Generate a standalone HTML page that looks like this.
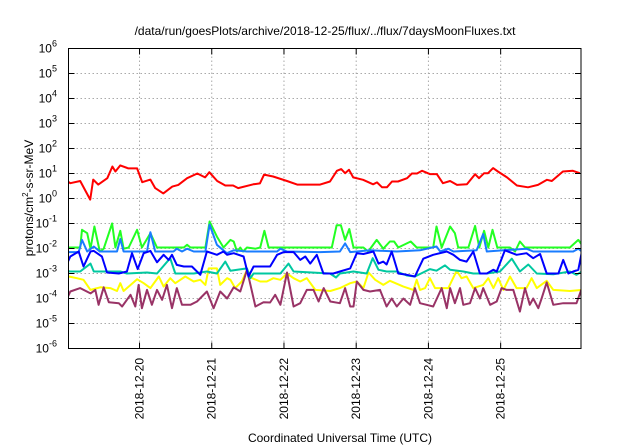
<!DOCTYPE html>
<html><head><meta charset="utf-8"><style>
html,body{margin:0;padding:0;background:#fff;}
svg{display:block;font-family:"Liberation Sans",sans-serif;}
</style></head><body>
<svg id="chart" width="640" height="448" viewBox="0 0 640 448">
<text x="325" y="35" font-size="12" text-anchor="middle">/data/run/goesPlots/archive/2018-12-25/flux/../flux/7daysMoonFluxes.txt</text>
<text x="340" y="442" font-size="12" text-anchor="middle">Coordinated Universal Time (UTC)</text>
<text transform="translate(33,198) rotate(-90)" font-size="12" text-anchor="middle">protons/cm<tspan font-size="8" dy="-5">2</tspan><tspan dy="5">-s-sr-MeV</tspan></text>
<defs><clipPath id="pc"><rect x="68.5" y="48.5" width="512.5" height="300"/></clipPath></defs>
<g id="grid"></g>
<g id="series" clip-path="url(#pc)"></g>
<rect x="68.5" y="48.5" width="512.5" height="300" fill="none" stroke="#000" stroke-width="1"/>
<g id="ticks"></g>
</svg>
<script>
const yTickExps = [-6,-5,-4,-3,-2,-1,0,1,2,3,4,5,6];
const dateLabels = ["2018-12-20","2018-12-21","2018-12-22","2018-12-23","2018-12-24","2018-12-25"];
const dateHours = [24,48,72,96,120,144];

const redT = [-2.3,1,4.3,7.6,8.6,10.3,13.3,15,16,17.6,20.3,23.2,24.9,27.6,29.2,31.9,34.9,36.9,39.8,43.2,45.8,47.2,49.8,52.5,55.1,56.8,61.8,64,65.4,68.4,73,76.4,84,87.3,89.6,91,92.3,93.6,95,98.3,101.6,102.9,104.6,106.2,107.9,109.9,112.9,114.5,116.2,117.9,120.5,122.8,124.8,127.2,129.5,132.8,135.5,136.8,138.5,139.8,141.5,143.1,146.1,149.4,153.1,156.4,159.4,161,164.7,168,170.3];
const redV = [7.6,4.1,5,0.9,5.7,3.6,6.5,19,12,21,16,16,4.5,5.7,2.6,1.6,3,3.5,6.5,10,7,11.3,5,3.3,3.3,2.6,3.7,4,9,7.6,5,3.6,3.6,4.8,12.8,15,10.3,14,7,5.6,3.7,4.4,2.8,2.8,4.8,4.8,6.5,10,10,12.8,9.5,9.5,4.1,5,3.5,3.7,9.4,6.5,10.3,10.3,16.4,12,7,3.3,2.8,3.5,5.6,5,12,12.8,10.3];

const greenT = [-2.3,4.3,4.9,6.6,7.7,9,10.8,12.1,14.9,16,17.6,18.7,20.4,23.2,24.8,27.6,29.8,38.7,39.8,40.9,45.9,47.3,49.7,51.9,54.2,55.3,56.4,57.5,58.4,59.7,62.5,64.1,65.5,66.9,84,87.9,89.5,90.9,92.3,93.7,95.1,98.4,100,102.8,105,107.2,108.6,110,114.1,116.1,121.6,122.7,124.4,127.2,128.8,129.9,133.3,135.5,136.9,138.5,139.9,141.3,142.9,147.1,148.8,150.4,152.1,167,169.8,171];
const greenV = [0.011,0.011,0.056,0.041,0.0098,0.076,0.0076,0.0098,0.10,0.011,0.051,0.0098,0.011,0.056,0.011,0.041,0.011,0.011,0.014,0.011,0.011,0.12,0.030,0.011,0.022,0.019,0.0076,0.011,0.0076,0.011,0.0098,0.011,0.051,0.011,0.011,0.011,0.085,0.085,0.022,0.06,0.011,0.011,0.0076,0.022,0.0098,0.019,0.019,0.011,0.019,0.011,0.011,0.076,0.011,0.076,0.041,0.011,0.011,0.08,0.011,0.051,0.011,0.056,0.011,0.011,0.0076,0.019,0.011,0.011,0.022,0.014];

const lblueT = [-2.3,3.8,4.9,6.6,8.8,10.8,16.5,17.6,18.7,26.5,27.6,29.2,35.3,36.4,38.1,39.8,42,45.9,47.3,49.7,53,55.3,59.7,69.7,70.8,73,84,90.6,92.3,94,100.6,109.5,117.2,122.7,123.9,126.6,128.3,136,138.2,139.4,152.6,154.8,168.1,169.8,171];
const lblueV = [0.0072,0.0072,0.022,0.0076,0.012,0.0076,0.0076,0.024,0.0076,0.0076,0.045,0.0076,0.0076,0.0098,0.0076,0.0098,0.0076,0.0076,0.09,0.014,0.0065,0.0085,0.0076,0.0076,0.0098,0.0076,0.0072,0.0076,0.016,0.0072,0.0085,0.0076,0.0085,0.012,0.0076,0.0098,0.0076,0.0085,0.038,0.0076,0.0098,0.0076,0.0076,0.0098,0.0076];

const blueT = [-2.3,-1,1,3.8,5.4,7.7,8.8,11.5,13.2,17.1,19.8,21.5,23.4,25.4,27.6,29.8,32,33.7,34.8,36.4,38.7,41.4,44.2,46.4,49.7,51.9,53.1,55.3,58.6,60.2,61.9,67.4,69.7,71.9,75.2,77.4,79.1,80.7,82.9,85.1,88.4,90.6,94,96.2,98.4,101.7,103.4,105,106.1,107.8,110,112.8,115.5,118.3,121.6,126.1,128.3,130.5,132.7,134.9,137.1,139.4,141.6,142.7,145.4,149.3,152.6,154.8,157.1,159.3,161.5,163.2,164.8,166.5,168.1,169.8,171];
const blueV = [3.0e-3,1.4e-3,4.8e-3,7.6e-3,1.9e-3,7.6e-3,8.0e-3,4.8e-3,1.1e-3,1.0e-3,1.2e-3,6.5e-3,1.5e-3,6.5e-3,8.0e-3,2.8e-3,5.6e-3,3.5e-3,5.6e-3,2.2e-3,1.9e-3,1.9e-3,8.9e-4,7.6e-3,5.6e-3,7.6e-3,5.6e-3,6.5e-3,4.8e-3,7.6e-4,1.9e-3,1.9e-3,5.6e-3,7.2e-3,7.2e-3,3.5e-3,4.8e-3,2.5e-3,5.6e-3,1.0e-3,1.0e-3,1.2e-3,1.6e-3,6.5e-3,6.0e-3,7.6e-3,2.5e-3,3.0e-3,2.3e-3,7.6e-3,1.0e-3,8.9e-4,7.6e-4,3.9e-3,5.6e-3,7.6e-3,5.6e-3,3.5e-3,3.0e-3,7.6e-3,1.0e-3,1.0e-3,1.4e-3,1.2e-3,8.5e-3,5.6e-3,6.5e-3,4.1e-3,6.0e-3,1.0e-3,1.0e-3,1.0e-3,3.5e-3,1.0e-3,1.2e-3,1.4e-3,7.6e-3];

const tealT = [-2.3,1,4.3,7.7,8.8,17.6,19.8,26.5,29.8,34.2,35.9,42,46.4,49.7,52.5,54.2,59.7,60.8,61.9,70.8,73.5,75.2,87.3,89.3,90.6,95.1,99.5,101.5,103.4,106.1,109.5,112.8,115.5,120.5,122.7,125.5,127.2,131.6,134.9,139.4,143.8,147.7,150.4,153.2,156,161.5,167,169.2,171];
const tealV = [1.4e-3,1.2e-3,1.2e-3,2.5e-3,1.2e-3,1.2e-3,1.0e-3,1.1e-3,1.0e-3,4.1e-3,1.0e-3,1.0e-3,1.2e-3,1.0e-3,3.0e-3,1.3e-3,1.6e-3,6.5e-4,1.0e-3,1.0e-3,2.5e-3,1.2e-3,1.0e-3,6.9e-4,1.0e-3,1.2e-3,1.0e-3,4.1e-3,1.4e-3,1.2e-3,1.2e-3,8.3e-4,7.6e-4,1.5e-3,1.3e-3,2.1e-3,1.4e-3,1.2e-3,1.0e-3,1.0e-3,1.2e-3,3.9e-3,1.2e-3,2.3e-3,1.0e-3,9.3e-4,1.2e-3,8.9e-4,1.2e-3];

const yellowT = [-2.3,0.5,3.2,5.4,7.7,11,14.3,16.5,17.6,18.7,23.2,25.4,27.6,30.4,32,34.2,35.9,39.2,42,44.2,45.9,47,49.7,50.8,53.1,54.2,55.8,58,59.7,61.4,64.1,66.3,68.5,70.8,73,75.2,77.4,79.6,82.4,87.4,90.6,94,96.2,98.4,100.1,102.3,105,107.2,111.7,115,116.1,117.2,118.9,120.5,122.2,126.6,129.4,131,132.7,134.9,138.2,139.9,141.6,143.2,144.9,147.1,149.3,152.6,154.3,156,159.3,161.5,167,171];
const yellowV = [2.6e-4,7.6e-4,6.5e-4,5.6e-4,2.2e-4,2.8e-4,2.6e-4,2.0e-4,4.1e-4,2.0e-4,5.9e-4,4.1e-4,2.6e-4,7.6e-4,3.0e-4,6.5e-4,4.1e-4,7.6e-4,4.8e-4,5.6e-4,3.5e-4,1.6e-3,1.6e-3,3.5e-4,6.5e-4,5.6e-4,2.6e-4,4.8e-4,1.4e-3,6.5e-4,4.8e-4,4.8e-4,6.5e-4,5.6e-4,1.0e-3,6.5e-4,4.8e-4,6.5e-4,2.2e-4,2.0e-4,2.6e-4,4.1e-4,4.8e-4,2.6e-4,1.1e-3,5.6e-4,3.5e-4,5.1e-4,3.0e-4,2.2e-4,5.6e-4,2.2e-4,2.6e-4,6.5e-4,2.6e-4,2.6e-4,1.3e-3,6.5e-4,7.6e-4,2.6e-4,3.5e-4,6.5e-4,2.6e-4,6.5e-4,2.2e-4,7.6e-4,2.6e-4,2.6e-4,6.5e-4,2.6e-4,5.1e-4,2.2e-4,2.0e-4,2.2e-4];

const purpleT = [-2.3,-1,1,4.3,7.7,9.3,10.4,12.1,13.8,17.1,18.2,21,22.6,23.7,24.8,26.5,28.1,29.8,31.5,33.1,34.8,36.4,38.1,40.9,43.1,46.4,48.6,50.8,53.1,55.3,57.5,59.7,62.5,65.2,67.4,69.1,70.8,73,75.2,77.4,79.6,81.8,83.5,85.2,87.4,90.6,92.3,94,95.1,96.2,98.4,100.6,103.9,106.1,107.8,109.5,111.7,113.9,115.5,117.2,119.4,121.6,124.4,126.1,127.2,128.8,130.5,131.6,133.8,135.5,137.1,138.2,140.5,142.7,144.3,146,148.2,150.4,152.1,153.7,154.8,156.5,157.6,159.3,161.5,164.8,169.2,171];
const purpleV = [1.4e-4,5.6e-5,1.9e-4,2.6e-4,1.6e-4,2.2e-4,5.6e-5,2.8e-4,7.1e-5,6.5e-5,4.8e-5,1.4e-4,4.8e-5,3.5e-4,4.1e-5,2.2e-4,5.6e-5,2.2e-4,8.9e-5,3.5e-4,4.1e-5,2.6e-4,5.6e-5,5.6e-5,7.6e-5,1.9e-4,4.1e-5,1.9e-4,1.0e-4,2.8e-4,1.9e-4,1.4e-3,4.8e-5,7.1e-5,6.9e-5,1.4e-4,5.6e-5,1.1e-3,4.8e-5,6.5e-5,2.2e-4,2.2e-4,7.6e-5,2.6e-4,7.6e-5,6.5e-5,2.6e-4,4.8e-5,4.8e-5,4.8e-4,2.2e-4,1.9e-4,2.2e-4,4.8e-5,1.0e-4,4.8e-5,1.0e-4,5.6e-5,2.6e-4,6.5e-5,5.6e-5,4.8e-5,2.6e-4,4.1e-5,2.6e-4,6.5e-5,2.6e-4,5.6e-5,6.5e-5,2.6e-4,1.0e-4,2.6e-4,5.6e-5,7.6e-5,2.6e-4,2.2e-4,2.2e-4,3.0e-5,2.6e-4,5.6e-5,1.0e-4,4.1e-5,1.0e-4,4.4e-4,5.6e-5,6.5e-5,6.5e-5,2.6e-4];

const NS = "http://www.w3.org/2000/svg";
const X0 = 68.5, X1 = 581, Y0 = 348.5, Y1 = 48.5;
const T0 = 0.4, T1 = 170.7, E0 = -6, E1 = 6;
function xScale(t){ return X0 + (t - T0) / (T1 - T0) * (X1 - X0); }
function yScale(v){ return Y0 - (Math.log10(v) - E0) / (E1 - E0) * (Y0 - Y1); }

const grid = document.getElementById('grid');
const ticks = document.getElementById('ticks');
const seriesG = document.getElementById('series');

yTickExps.forEach(e => {
  const y = yScale(Math.pow(10, e));
  if (e > E0 && e < E1) {
    const g = document.createElementNS(NS, 'line');
    g.setAttribute('x1', X0); g.setAttribute('x2', X1); g.setAttribute('y1', y); g.setAttribute('y2', y);
    g.setAttribute('stroke', '#aaa'); g.setAttribute('stroke-dasharray', '1.5,2.5'); g.setAttribute('stroke-width', '1');
    
    
    grid.appendChild(g);
  }
  [[X0, X0 + 6], [X1 - 6, X1]].forEach(p => {
    const tk = document.createElementNS(NS, 'line');
    tk.setAttribute('x1', p[0]); tk.setAttribute('x2', p[1]); tk.setAttribute('y1', y); tk.setAttribute('y2', y);
    tk.setAttribute('stroke', '#000');
    
    
    ticks.appendChild(tk);
  });
  const tx = document.createElementNS(NS, 'text');
  tx.setAttribute('x', 57); tx.setAttribute('y', y + 4);
  tx.setAttribute('font-size', '12'); tx.setAttribute('text-anchor', 'end');
  tx.innerHTML = '10<tspan font-size="9" dy="-6">' + e + '</tspan>';
  
  
  ticks.appendChild(tx);
});

dateHours.forEach((h, i) => {
  const x = xScale(h);
  const g = document.createElementNS(NS, 'line');
  g.setAttribute('x1', x); g.setAttribute('x2', x); g.setAttribute('y1', Y1); g.setAttribute('y2', Y0);
  g.setAttribute('stroke', '#aaa'); g.setAttribute('stroke-dasharray', '1.5,2.5');
  
  
  grid.appendChild(g);
  [[Y0, Y0 - 6], [Y1, Y1 + 6]].forEach(p => {
    const tk = document.createElementNS(NS, 'line');
    tk.setAttribute('x1', x); tk.setAttribute('x2', x); tk.setAttribute('y1', p[0]); tk.setAttribute('y2', p[1]);
    tk.setAttribute('stroke', '#000');
    
    
    ticks.appendChild(tk);
  });
  const tx = document.createElementNS(NS, 'text');
  tx.setAttribute('transform', 'translate(' + (x + 4) + ',358) rotate(-90)');
  tx.setAttribute('font-size', '12'); tx.setAttribute('text-anchor', 'end');
  tx.textContent = dateLabels[i];
  
  
  ticks.appendChild(tx);
});

const seriesList = [
  ['red-series', redT, redV, '#ff0000'],
  ['yellow-series', yellowT, yellowV, '#ffff00'],
  ['purple-series', purpleT, purpleV, '#993366'],
  ['teal-series', tealT, tealV, '#00c8a0'],
  ['light-blue-series', lblueT, lblueV, '#1a7cff'],
  ['green-series', greenT, greenV, '#22ff22'],
  ['blue-series', blueT, blueV, '#0000ff']
];
const order = [0, 5, 4, 1, 2, 3, 6];
order.forEach(i => {
  const s = seriesList[i];
  const pts = s[1].map((t, k) => xScale(t).toFixed(1) + ',' + yScale(s[2][k]).toFixed(1)).join(' ');
  const pl = document.createElementNS(NS, 'polyline');
  pl.setAttribute('points', pts);
  pl.setAttribute('fill', 'none'); pl.setAttribute('stroke', s[3]);
  pl.setAttribute('stroke-width', '2'); pl.setAttribute('stroke-linejoin', 'round');
  
  
  seriesG.appendChild(pl);
});
</script>
</body></html>
